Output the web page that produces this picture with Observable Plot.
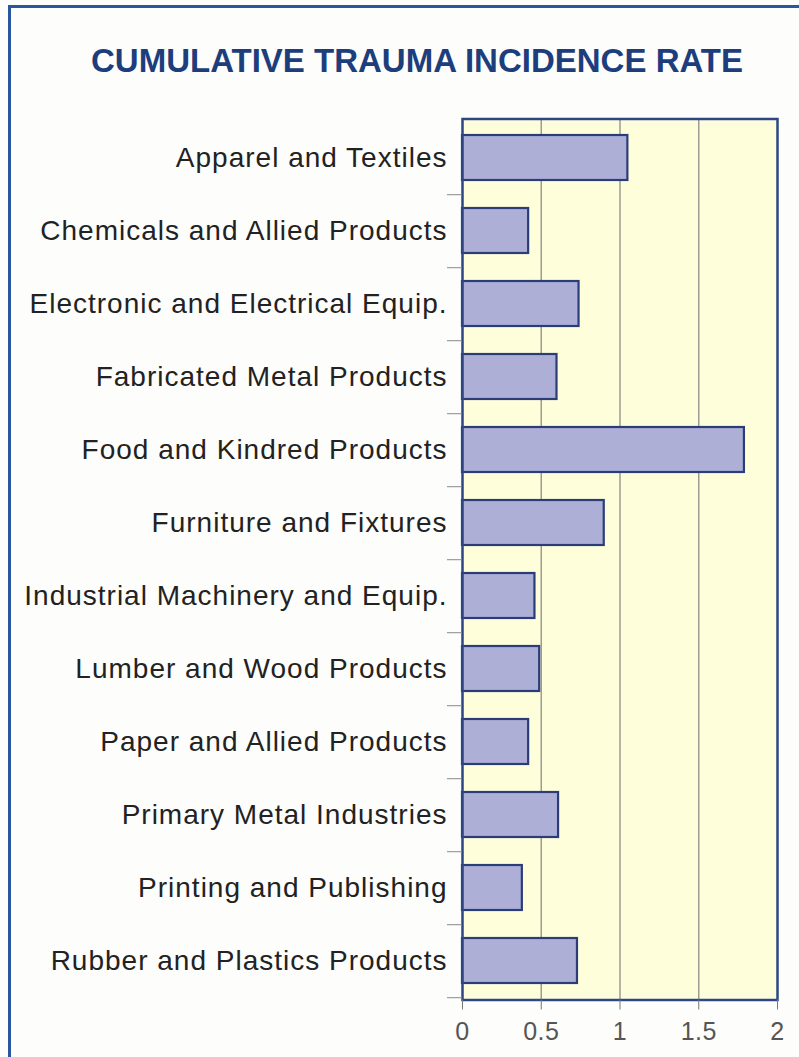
<!DOCTYPE html>
<html>
<head>
<meta charset="utf-8">
<script src="https://cdn.jsdelivr.net/npm/d3@7"></script>
<script src="https://cdn.jsdelivr.net/npm/@observablehq/plot@0.6"></script>
<style>
  html, body { margin: 0; padding: 0; background: #fdfdfc; }
  #page { position: relative; width: 799px; height: 1057px; overflow: hidden; font-family: "Liberation Sans", Arial, sans-serif; }
  #border { position: absolute; left: 8px; top: 5px; width: 900px; height: 1200px;
            border-left: 3px solid #2a56a0; border-top: 3px solid #2a56a0; }
  #title { position: absolute; top: 44px; left: 417px; transform: translateX(-50%);
           white-space: nowrap; font-size: 33px; line-height: 1; font-weight: bold; color: #1d3e7c; }
  #chart { position: absolute; left: 0; top: 100px; }
  #chart g[aria-label="y-axis tick label"] text { letter-spacing: 1px; }
  #chart g[aria-label="x-axis tick label"] text { letter-spacing: 0.5px; }
</style>
</head>
<body>
<div id="page">
  <div id="border"></div>
  <div id="title">CUMULATIVE TRAUMA INCIDENCE RATE</div>
  <div id="chart"></div>
</div>
<script>
// Industry groups, top to bottom
const industries = [
  "Apparel and Textiles",
  "Chemicals and Allied Products",
  "Electronic and Electrical Equip.",
  "Fabricated Metal Products",
  "Food and Kindred Products",
  "Furniture and Fixtures",
  "Industrial Machinery and Equip.",
  "Lumber and Wood Products",
  "Paper and Allied Products",
  "Primary Metal Industries",
  "Printing and Publishing",
  "Rubber and Plastics Products"
];
// Cumulative trauma incidence rate per industry
const rates = [1.05, 0.42, 0.74, 0.6, 1.79, 0.9, 0.46, 0.49, 0.42, 0.61, 0.38, 0.73];
const xTicks = [0, 0.5, 1, 1.5, 2];
const gridTicks = [0.5, 1, 1.5];

const data = industries.map((name, i) => ({name, rate: rates[i]}));

const marginTop = 18.5, marginBottom = 57.5, height = 957;
const step = (height - marginTop - marginBottom) / industries.length;

const chart = Plot.plot({
  width: 799,
  height,
  marginLeft: 462,
  marginRight: 22,
  marginTop,
  marginBottom,
  style: {fontFamily: "'Liberation Sans', Arial, sans-serif", background: "transparent"},
  x: {domain: [0, 2]},
  y: {domain: industries, padding: 0},
  marks: [
    Plot.frame({fill: "#fffedb", stroke: null}),
    Plot.gridX(gridTicks, {stroke: "#9c9c96", strokeOpacity: 1, strokeWidth: 1.5}),
    Plot.barX(data, {
      x: "rate", y: "name",
      fill: "#adafd6", stroke: "#2b3d78", strokeWidth: 2.2,
      insetTop: 14, insetBottom: 14
    }),
    Plot.frame({stroke: "#2d4785", strokeWidth: 2.5}),
    // category labels, centered on each row
    Plot.axisY({tickSize: 0, tickPadding: 15, fontSize: 28, fill: "#222", label: null}),
    // separator ticks at row boundaries
    Plot.axisY({tickSize: 15, tickFormat: () => "", dy: step / 2, stroke: "#8a8a8a", label: null}),
    Plot.axisX(xTicks, {tickSize: 10, tickPadding: 12.5, fontSize: 25, fill: "#555", stroke: "#777",
                        tickFormat: d3.format("~g"), label: null})
  ]
});
document.getElementById("chart").appendChild(chart);
</script>
</body>
</html>
